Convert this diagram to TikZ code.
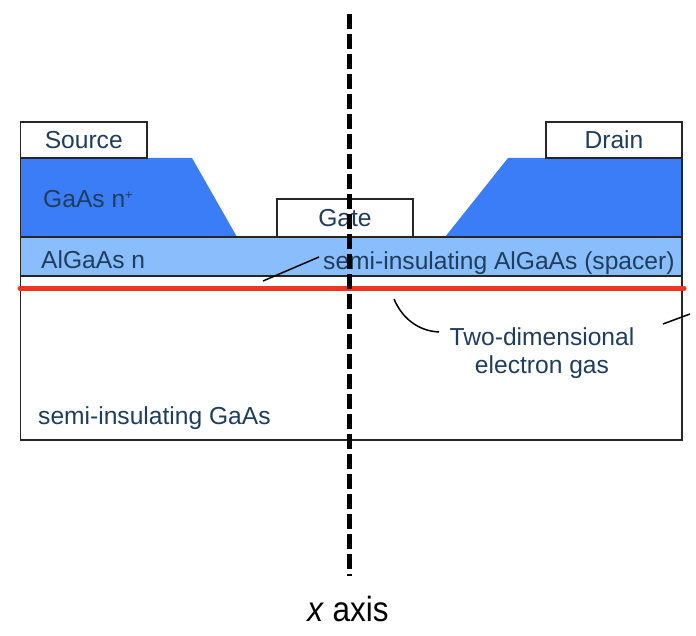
\documentclass[tikz,border=0pt]{standalone}
\usepackage{fontspec}
\setmainfont{Liberation Sans}
\definecolor{labelc}{HTML}{1F3D5C}
\definecolor{bluedark}{HTML}{3A7DF7}
\definecolor{bluelight}{HTML}{8ABDFB}
\definecolor{redline}{HTML}{EE3524}
\tikzset{
  layer/.style={draw=black!85,line width=1.8pt},
  contactbox/.style={draw=black!85,line width=1.8pt,fill=white,anchor=north west,inner sep=0pt,outer sep=0pt,text=labelc,font=\fontsize{24.6}{28}\selectfont},
  lbl/.style={text=labelc,inner sep=0pt,font=\fontsize{24.6}{28}\selectfont},
  leader/.style={draw=black,line width=1.5pt},
}
\begin{document}
\begin{tikzpicture}[x=1pt,y=-1pt]
\useasboundingbox (0,0) rectangle (696,636);
% substrate and layers
\draw[layer] (20.5,276) rectangle (682,440);
\fill[bluedark] (20.5,158) -- (192,158) -- (237,237) -- (20.5,237) -- cycle;
\fill[bluedark] (508,158) -- (682,158) -- (682,237) -- (445,237) -- cycle;
\draw[layer] (20.5,158) -- (20.5,237);
\draw[layer] (682,158) -- (682,237);
\draw[layer,fill=bluelight] (20.5,237) rectangle (682,276);
% contacts
\node[contactbox,minimum width=126.5pt,minimum height=36pt] (source) at (20.5,122) {Source};
\node[contactbox,minimum width=136pt,minimum height=36pt] (drain) at (546,122) {Drain};
\node[contactbox,minimum width=136pt,minimum height=38pt] (gate) at (277,199) {\raisebox{1pt}{Gate}};
% labels
\node[lbl,anchor=base west] (gaas) at (43,208) {GaAs n\raisebox{8pt}{\fontsize{13}{13}\selectfont +}};
\node[lbl,anchor=base west] (algaas) at (41,269) {AlGaAs n};
\node[lbl,anchor=base west] (spacer) at (323,270) {semi-insulating AlGaAs (spacer)};
\node[lbl,anchor=base west] (sigaas) at (38,424) {semi-insulating GaAs};
\node[lbl,align=center,anchor=north] (twodeg) at (542,327) {Two-dimensional\\electron gas};
% electron gas
\coordinate (gasL) at (20,288.5);
\coordinate (gasR) at (684,288.5);
\draw[redline,line width=5pt,line cap=round] (gasL) -- (gasR);
% leaders
\coordinate (spacerEnd) at (263,281);
\coordinate (spacerStart) at (319,257);
\coordinate (gasEnd) at (394,299);
\coordinate (gasStart) at (439,332);
\coordinate (rightA) at (663,324);
\coordinate (rightB) at (690,314);
\draw[leader] (spacerEnd) -- (spacerStart);
\draw[leader] (gasEnd) .. controls (402,318) and (418,331) .. (gasStart);
\draw[leader] (rightA) -- (rightB);
% axis
\coordinate (axisTop) at (349,14);
\coordinate (axisBottom) at (349,576);
\draw[black,line width=5pt,dash pattern=on 15pt off 5pt] (axisTop) -- (axisBottom);
\node[inner sep=0pt,anchor=base,text=black,xscale=0.9,font=\fontsize{35}{38}\selectfont] (axislabel) at (348,621) {\textit{x} axis};
\end{tikzpicture}
\end{document}
